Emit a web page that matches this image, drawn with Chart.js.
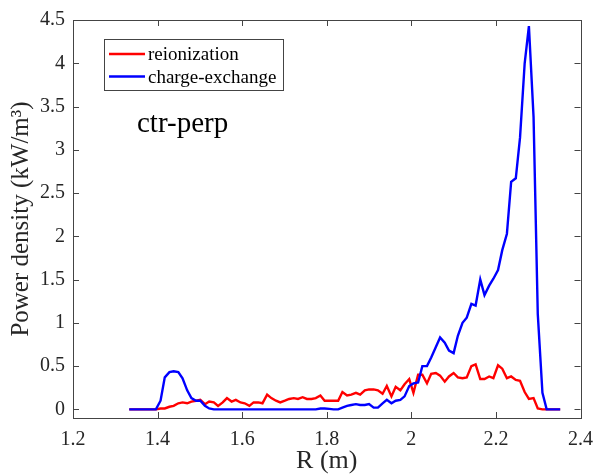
<!DOCTYPE html>
<html>
<head>
<meta charset="utf-8">
<title>ctr-perp power density</title>
<script src="https://cdn.jsdelivr.net/npm/chart.js@4.4.1/dist/chart.umd.min.js"></script>
<style>
  html, body { margin: 0; padding: 0; background: #fff; }
  #chart { display: block; }
</style>
</head>
<body>
<canvas id="chart" width="603" height="475"></canvas>
<script>
// major radius samples (m)
const radius = [
  1.333, 1.344, 1.354, 1.365, 1.375, 1.386, 1.396, 1.407, 1.417, 1.428,
  1.438, 1.449, 1.459, 1.470, 1.480, 1.491, 1.501, 1.512, 1.522, 1.533,
  1.543, 1.554, 1.564, 1.575, 1.585, 1.596, 1.606, 1.617, 1.627, 1.638,
  1.648, 1.659, 1.669, 1.680, 1.690, 1.701, 1.711, 1.722, 1.732, 1.743,
  1.753, 1.764, 1.774, 1.785, 1.795, 1.806, 1.816, 1.827, 1.837, 1.848,
  1.858, 1.869, 1.879, 1.890, 1.900, 1.911, 1.921, 1.932, 1.942, 1.953,
  1.963, 1.974, 1.984, 1.995, 2.005, 2.016, 2.026, 2.037, 2.047, 2.058,
  2.068, 2.079, 2.089, 2.100, 2.110, 2.121, 2.131, 2.142, 2.152, 2.163,
  2.173, 2.184, 2.194, 2.205, 2.215, 2.226, 2.236, 2.247, 2.257, 2.268,
  2.278, 2.289, 2.299, 2.310, 2.320, 2.331, 2.341, 2.352
];

// power density (kW/m^3)
const reionization = [
  0, 0, 0, 0, 0, 0, 0, 0.01, 0.01, 0.03,
  0.04, 0.07, 0.08, 0.07, 0.09, 0.10, 0.11, 0.06, 0.09, 0.08,
  0.04, 0.08, 0.13, 0.09, 0.11, 0.08, 0.07, 0.04, 0.08, 0.08,
  0.07, 0.17, 0.13, 0.10, 0.08, 0.10, 0.12, 0.13, 0.12, 0.14,
  0.12, 0.12, 0.13, 0.16, 0.10, 0.10, 0.10, 0.10, 0.20, 0.16,
  0.17, 0.19, 0.17, 0.22, 0.23, 0.23, 0.22, 0.18, 0.27, 0.15,
  0.26, 0.22, 0.29, 0.35, 0.19, 0.40, 0.40, 0.30, 0.41, 0.42,
  0.39, 0.32, 0.38, 0.42, 0.37, 0.36, 0.37, 0.50, 0.52, 0.35,
  0.35, 0.38, 0.36, 0.51, 0.47, 0.36, 0.38, 0.34, 0.33, 0.20,
  0.12, 0.13, 0.01, 0, 0, 0, 0, 0
];

const chargeExchange = [
  0, 0, 0, 0, 0, 0, 0, 0.10, 0.37, 0.43,
  0.44, 0.43, 0.36, 0.22, 0.13, 0.10, 0.10, 0.04, 0.01, 0,
  0, 0, 0, 0, 0, 0, 0, 0, 0, 0,
  0, 0, 0, 0, 0, 0, 0, 0, 0, 0,
  0, 0, 0, 0.01, 0.01, 0.005, 0, 0, 0.02, 0.04,
  0.05, 0.06, 0.05, 0.05, 0.06, 0.02, 0.02, 0.07, 0.11, 0.07,
  0.10, 0.11, 0.15, 0.27, 0.30, 0.31, 0.50, 0.50, 0.60, 0.72,
  0.83, 0.77, 0.68, 0.65, 0.85, 1.00, 1.06, 1.22, 1.20, 1.50,
  1.32, 1.43, 1.51, 1.61, 1.84, 2.03, 2.63, 2.67, 3.14, 4.00,
  4.43, 3.38, 1.10, 0.19, 0, 0, 0, 0
];

const xTicks = [1.2, 1.4, 1.6, 1.8, 2, 2.2, 2.4];
const yTicks = [0, 0.5, 1, 1.5, 2, 2.5, 3, 3.5, 4, 4.5];
const seriesNames = ["reionization", "charge-exchange"];
const seriesColors = ["#ff0000", "#0000ff"];
const panelLabel = "ctr-perp";

const serif = "'Liberation Serif', 'Times New Roman', serif";
const textColor = "#262626";
const boxColor = "#444444";

function toPoints(ys) {
  return radius.map((r, i) => ({ x: r, y: ys[i] }));
}

// box, inward ticks, legend and panel label, drawn the way MATLAB does
const decorations = {
  id: "decorations",
  afterDatasetsDraw(chart) {
    const ctx = chart.ctx;
    const a = chart.chartArea;
    const xs = chart.scales.x, ys = chart.scales.y;
    const tick = 6;
    ctx.save();
    ctx.strokeStyle = boxColor;
    ctx.lineWidth = 1;
    ctx.beginPath();
    xTicks.forEach((v) => {
      const px = Math.round(xs.getPixelForValue(v)) + 0.5;
      ctx.moveTo(px, a.bottom); ctx.lineTo(px, a.bottom - tick);
      ctx.moveTo(px, a.top); ctx.lineTo(px, a.top + tick);
    });
    yTicks.forEach((v) => {
      const py = Math.round(ys.getPixelForValue(v)) + 0.5;
      ctx.moveTo(a.left, py); ctx.lineTo(a.left + tick, py);
      ctx.moveTo(a.right, py); ctx.lineTo(a.right - tick, py);
    });
    ctx.stroke();
    ctx.strokeRect(Math.round(a.left) + 0.5, Math.round(a.top) + 0.5,
      Math.round(a.right - a.left), Math.round(a.bottom - a.top));

    // legend
    const lx = a.left + 31, ly = a.top + 19, lw = 179, lh = 51;
    ctx.fillStyle = "#fff";
    ctx.fillRect(lx, ly, lw, lh);
    ctx.strokeRect(lx + 0.5, ly + 0.5, lw, lh);
    ctx.font = "19px " + serif;
    ctx.textBaseline = "alphabetic";
    seriesNames.forEach((name, i) => {
      const cy = ly + 15 + i * 22.5;
      ctx.strokeStyle = seriesColors[i];
      ctx.lineWidth = 2.4;
      ctx.beginPath();
      ctx.moveTo(lx + 5, cy);
      ctx.lineTo(lx + 41, cy);
      ctx.stroke();
      ctx.fillStyle = "#000";
      ctx.fillText(name, lx + 44, cy + 6);
    });

    ctx.font = "29px " + serif;
    ctx.fillStyle = "#000";
    ctx.fillText(panelLabel, a.left + 64, a.top + 112);
    ctx.restore();
  }
};

new Chart(document.getElementById("chart"), {
  type: "line",
  data: {
    datasets: [
      {
        label: seriesNames[0],
        data: toPoints(reionization),
        borderColor: seriesColors[0],
        borderWidth: 2.4,
        pointRadius: 0,
        tension: 0,
        fill: false,
        order: 2
      },
      {
        label: seriesNames[1],
        data: toPoints(chargeExchange),
        borderColor: seriesColors[1],
        borderWidth: 2.4,
        pointRadius: 0,
        tension: 0,
        fill: false,
        order: 1
      }
    ]
  },
  options: {
    responsive: false,
    devicePixelRatio: 1,
    animation: false,
    layout: { padding: { left: 0, right: 15, top: 18, bottom: 0 } },
    plugins: {
      legend: { display: false },
      tooltip: { enabled: false }
    },
    scales: {
      x: {
        type: "linear",
        min: 1.2,
        max: 2.4,
        afterBuildTicks: (scale) => { scale.ticks = xTicks.map((v) => ({ value: v })); },
        afterFit: (scale) => { scale.height = 57; },
        grid: { display: false, drawTicks: false },
        border: { display: false },
        ticks: {
          padding: 10,
          color: textColor,
          font: { family: serif, size: 20 },
          maxRotation: 0,
          callback: (v) => String(Math.round(v * 10) / 10)
        },
        title: {
          display: true,
          text: "R (m)",
          color: textColor,
          font: { family: serif, size: 26 },
          padding: { top: 0, bottom: -2 }
        }
      },
      y: {
        type: "linear",
        min: -0.1,
        max: 4.5,
        afterBuildTicks: (scale) => { scale.ticks = yTicks.map((v) => ({ value: v })); },
        afterFit: (scale) => { scale.width = 73; },
        grid: { display: false, drawTicks: false },
        border: { display: false },
        ticks: {
          padding: 8,
          color: textColor,
          font: { family: serif, size: 20 },
          callback: (v) => String(Math.round(v * 10) / 10)
        },
        title: {
          display: true,
          text: "Power density (kW/m³)",
          color: textColor,
          font: { family: serif, size: 25 },
          padding: { top: 6, bottom: 0 }
        }
      }
    }
  },
  plugins: [decorations]
});
</script>
</body>
</html>
